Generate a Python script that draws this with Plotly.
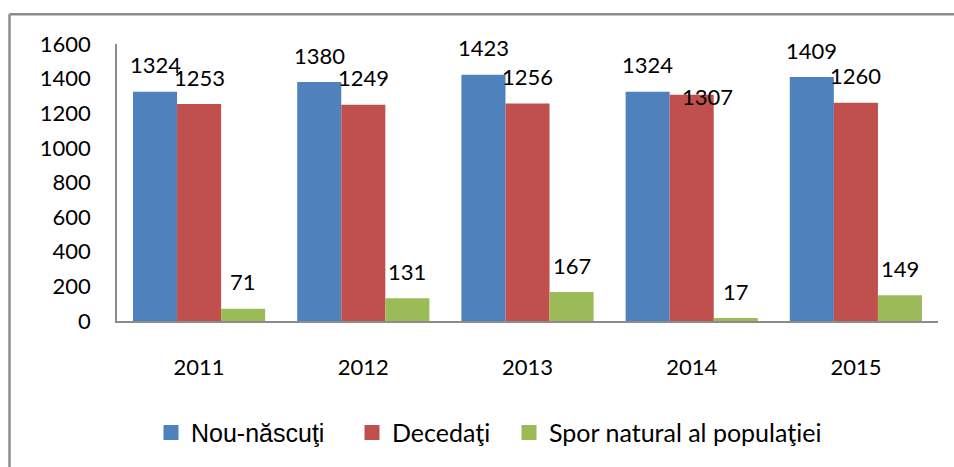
import plotly.graph_objects as go

years = ["2011", "2012", "2013", "2014", "2015"]
nou_nascuti = [1324, 1380, 1423, 1324, 1409]
decedati = [1253, 1249, 1256, 1307, 1260]
spor = [71, 131, 167, 17, 149]

series_names = ["Nou-născuţi", "Decedaţi", "Spor natural al populaţiei"]
colors = ["#4F81BD", "#C0504D", "#9BBB59"]
y_ticks = [0, 200, 400, 600, 800, 1000, 1200, 1400, 1600]

FONT = "Lato"
FS = 22

W, H = 954, 467
# plot area in page pixels: x 117..938, y 44..323
ML, MT = 117, 44
MR = W - 938
MB = H - 323
PW, PH = W - ML - MR, H - MT - MB


def px_x(p):
    return (p - ML) / PW


def px_y(p):
    return (H - MB - p) / PH


fig = go.Figure()
all_vals = [nou_nascuti, decedati, spor]
for name, vals, col in zip(series_names, all_vals, colors):
    fig.add_trace(go.Bar(x=years, y=vals, name=name, showlegend=False,
                         marker=dict(color=col, line=dict(width=0)), hoverinfo="y"))

# legend entries (square swatches)
legend_ids = ["legend", "legend2", "legend3"]
for name, col, lid in zip(series_names, colors, legend_ids):
    fig.add_trace(go.Scatter(x=[None], y=[None], mode="markers", name=name, legend=lid,
                             marker=dict(symbol="square", size=15, color=col),
                             showlegend=True, hoverinfo="skip"))

bar_w = (1 - 0.195) / 3
offsets = [-bar_w, 0, bar_w]
# Excel moved one overlapping label
special = {(1, 3): (16, -29)}
for si, vals in enumerate(all_vals):
    for ci, v in enumerate(vals):
        xs, ys = special.get((si, ci), (0, 0))
        fig.add_annotation(x=ci + offsets[si], y=v, text=str(v), showarrow=False,
                           xref="x", yref="y", yanchor="middle", xanchor="center",
                           yshift=27 + ys, xshift=xs,
                           font=dict(family=FONT, size=FS, color="black"))

# outer frame (top and left edges visible)
fig.add_shape(type="line", xref="paper", yref="paper",
              x0=px_x(9.5), x1=px_x(970), y0=px_y(14), y1=px_y(14),
              line=dict(color="#8C8C8C", width=2.5))
fig.add_shape(type="line", xref="paper", yref="paper",
              x0=px_x(9.5), x1=px_x(9.5), y0=px_y(14), y1=px_y(490),
              line=dict(color="#8C8C8C", width=2.5))

sym_centers = [171, 372, 529]
leg_fonts = [dict(family="Liberation Sans", size=25, color="black"),
             dict(family=FONT, size=25, color="black"),
             dict(family=FONT, size=25, color="black")]
leg_layout = {}
for lid, cx, fnt in zip(legend_ids, sym_centers, leg_fonts):
    leg_layout[lid] = dict(x=px_x(cx - 20), xanchor="left", y=px_y(435.5), yanchor="middle",
                           font=fnt, itemwidth=30, borderwidth=0,
                           bgcolor="rgba(0,0,0,0)", orientation="h")

fig.update_layout(
    width=W, height=H,
    margin=dict(l=ML, r=MR, t=MT, b=MB),
    paper_bgcolor="white", plot_bgcolor="white",
    barmode="group", bargap=0.195, bargroupgap=0,
    font=dict(family=FONT, size=FS, color="black"),
    showlegend=True,
    xaxis=dict(showline=True, linecolor="#8C8C8C", linewidth=1.5, showgrid=False,
               ticks="", ticklabelstandoff=26, tickfont=dict(family=FONT, size=FS)),
    yaxis=dict(range=[0, 1600], tickvals=y_ticks, showline=True, linecolor="#8C8C8C",
               linewidth=1.5, showgrid=False, zeroline=False, ticks="",
               ticklabelstandoff=20, tickfont=dict(family=FONT, size=FS)),
    **leg_layout,
)

fig.write_html(
    "out.html",
    config={"displayModeBar": False},
    post_script="document.body.style.margin='0';document.body.style.overflow='hidden';",
)
